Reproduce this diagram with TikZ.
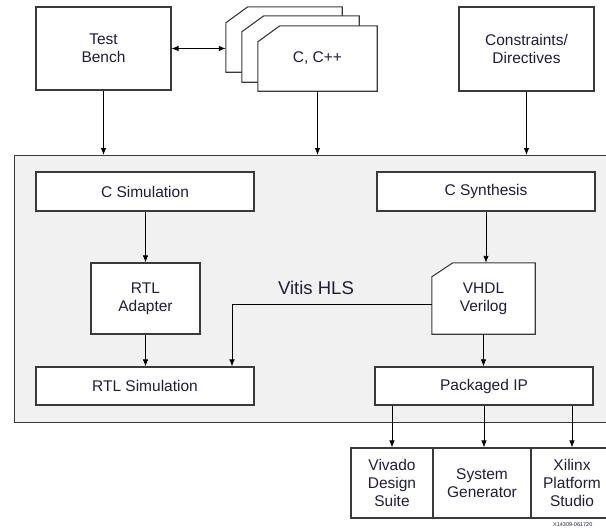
\documentclass[tikz,border=0pt]{standalone}
\usepackage{fontspec}
\setmainfont{Liberation Sans}
\usetikzlibrary{arrows.meta}
\definecolor{txt}{HTML}{1E1E3C}
\definecolor{ln}{HTML}{3A3A3A}
\definecolor{bg}{HTML}{F1F1F1}
\tikzset{
  x=1pt,y=-1pt,
  lbl/.style={text=txt,align=center,font=\fontsize{15.5}{18}\selectfont},
  box/.style={draw=ln,line width=1.1pt,fill=white,rectangle,inner sep=0pt,lbl},
  ghost/.style={rectangle,inner sep=0pt,draw=none,fill=none},
  outline/.style={draw=ln,line width=1.1pt,fill=white},
  arr/.style={draw=black,line width=0.9pt,-{Latex[length=7pt,width=5.5pt]}},
}
\newcommand{\chamfbox}[3]{%
  \path[outline] ([yshift=-#3]#1.north west) -- ([xshift=#2]#1.north west) -- (#1.north east)
    -- (#1.south east) -- (#1.south west) -- cycle;}
\begin{document}
\begin{tikzpicture}
\useasboundingbox (0,0) rectangle (606,530);
\clip (0,0) rectangle (606,530);
% outer Vitis HLS box
\node[draw=ln,line width=1.1pt,fill=bg,rectangle,minimum width=620pt,minimum height=267pt,anchor=north west,inner sep=0pt] (hls) at (14,155) {};
\node[text=txt,font=\fontsize{18.5}{20}\selectfont] (vitis) at (316,288) {Vitis HLS};
% top row
\node[box,minimum width=135pt,minimum height=83pt] (tb) at (103.5,48.5) {Test\\Bench};
\node[ghost,minimum width=116pt,minimum height=65pt] (cppback) at (284,39.5) {};
\node[ghost,minimum width=117pt,minimum height=66pt] (cppmid) at (300.5,49) {};
\node[ghost,minimum width=119pt,minimum height=65pt] (cpp) at (317.5,58.5) {};
\chamfbox{cppback}{22pt}{16pt}
\chamfbox{cppmid}{22pt}{16pt}
\chamfbox{cpp}{22pt}{16pt}
\node[lbl] (cpplbl) at (cpp.center) {C, C++};
\node[box,minimum width=135pt,minimum height=84pt] (con) at (526.5,49) {Constraints/\\Directives};
% inner boxes
\node[box,minimum width=218pt,minimum height=39pt] (csim) at (145,191.5) {C Simulation};
\node[box,minimum width=109pt,minimum height=71pt] (adp) at (145.5,298.5) {RTL\\Adapter};
\node[box,minimum width=218pt,minimum height=38pt] (rtlsim) at (145,386) {RTL Simulation};
\node[box,minimum width=218pt,minimum height=39pt] (csyn) at (486,191.5) {C Synthesis};
\node[ghost,minimum width=103pt,minimum height=71pt] (vhdl) at (483.5,298.5) {};
\chamfbox{vhdl}{21pt}{14pt}
\node[lbl] (vhdllbl) at (vhdl.center) {VHDL\\Verilog};
\node[box,minimum width=218pt,minimum height=38pt] (pip) at (484,386) {Packaged IP};
% bottom boxes
\node[box,minimum width=82pt,minimum height=70pt] (viv) at (392,483) {Vivado\\Design\\Suite};
\node[box,minimum width=98pt,minimum height=70pt] (sysg) at (482,483) {System\\Generator};
\node[box,minimum width=82pt,minimum height=70pt] (xps) at (572,483) {Xilinx\\Platform\\Studio};
\node[anchor=west,text=txt,font=\fontsize{5.5}{6}\selectfont,inner sep=0pt] (id) at (553,525) {X14309-061720};
% connectors
\draw[draw=black,line width=0.9pt,{Latex[length=7pt,width=5.5pt]}-{Latex[length=7pt,width=5.5pt]}] (tb.east) -- (tb.east -| cppback.west);
\draw[arr] (tb.south) -- (tb.south |- hls.north);
\draw[arr] (cpp.south) -- (cpp.south |- hls.north);
\draw[arr] (con.south) -- (con.south |- hls.north);
\draw[arr] ([xshift=0.5pt]csim.south) -- ([xshift=0.5pt]csim.south |- adp.north);
\draw[arr] (adp.south) -- (adp.south |- rtlsim.north);
\draw[arr] (csyn.south) -- (csyn.south |- vhdl.north);
\draw[arr] ([yshift=-5.5pt]vhdl.west) -| ([xshift=87pt]rtlsim.north);
\draw[arr] (vhdl.south) -- (vhdl.south |- pip.north);
\draw[arr] (pip.south -| viv.north) -- (viv.north);
\draw[arr] (pip.south) -- (pip.south |- sysg.north);
\draw[arr] (pip.south -| xps.north) -- (xps.north);
\end{tikzpicture}
\end{document}
